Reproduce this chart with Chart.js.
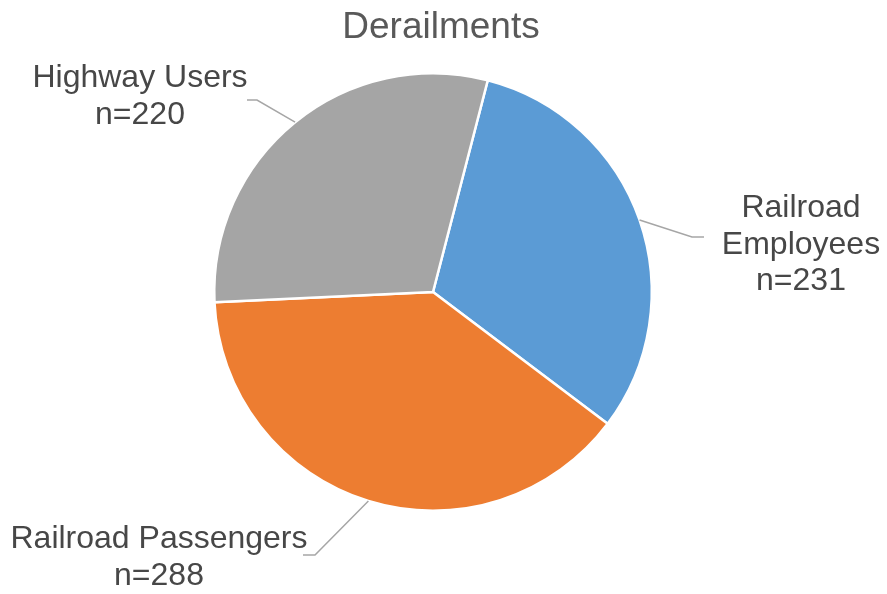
<!DOCTYPE html>
<html>
<head>
    <meta charset="utf-8">
    <title>Derailments</title>
    <script src="https://cdn.jsdelivr.net/npm/chart.js@4.4.1/dist/chart.umd.min.js"></script>
    <style>
        html, body { margin: 0; padding: 0; background: #fff; }
        #wrap { position: relative; width: 887px; height: 594px; }
    </style>
</head>
<body>
    <div id="wrap">
        <canvas id="canvas"></canvas>
    </div>
    <script>
        // casualty groups and their counts
        const groups = ['Highway Users', 'Railroad Employees', 'Railroad Passengers'];
        const counts = [220, 231, 288];
        const labelLines = [
            ['Highway Users', 'n=220'],
            ['Railroad', 'Employees', 'n=231'],
            ['Railroad Passengers', 'n=288']
        ];
        const chartTitle = 'Derailments';

        // slice order on the pie: employees first, then passengers, then highway users
        const order = [1, 2, 0];

        const colors = ['#A5A5A5', '#5B9BD5', '#ED7D31'];

        // where each label block sits and how its leader line bends
        const labelLayout = [
            { x: 140, y: 87, elbow: [257, 100], end: [247, 100] },
            { x: 801, y: 217, elbow: [692, 237], end: [704, 237] },
            { x: 159, y: 548, elbow: [315, 555], end: [303, 555] }
        ];

        const calloutPlugin = {
            id: 'callouts',
            afterDraw(chart) {
                const ctx = chart.ctx;
                ctx.save();
                // title
                ctx.fillStyle = '#595959';
                ctx.font = '37px "Liberation Sans", Arial, sans-serif';
                ctx.textAlign = 'center';
                ctx.textBaseline = 'alphabetic';
                ctx.fillText(chartTitle, 441, 38);

                const arcs = chart.getDatasetMeta(0).data;
                arcs.forEach((arc, i) => {
                    const g = order[i];
                    const p = arc.getProps(['x', 'y', 'startAngle', 'endAngle', 'outerRadius'], true);
                    const mid = (p.startAngle + p.endAngle) / 2;
                    const sx = p.x + Math.cos(mid) * p.outerRadius;
                    const sy = p.y + Math.sin(mid) * p.outerRadius;
                    const lay = labelLayout[g];

                    ctx.strokeStyle = '#A6A6A6';
                    ctx.lineWidth = 1.5;
                    ctx.beginPath();
                    ctx.moveTo(sx, sy);
                    ctx.lineTo(lay.elbow[0], lay.elbow[1]);
                    ctx.lineTo(lay.end[0], lay.end[1]);
                    ctx.stroke();

                    ctx.fillStyle = '#474747';
                    ctx.font = '32px "Liberation Sans", Arial, sans-serif';
                    labelLines[g].forEach((line, k) => {
                        ctx.fillText(line, lay.x, lay.y + k * 36.5);
                    });
                });
                ctx.restore();
            }
        };

        new Chart(document.getElementById('canvas'), {
            type: 'pie',
            data: {
                labels: order.map(i => groups[i]),
                datasets: [{
                    data: order.map(i => counts[i]),
                    backgroundColor: order.map(i => colors[i]),
                    borderColor: '#ffffff',
                    borderWidth: 2.5
                }]
            },
            options: {
                responsive: true,
                maintainAspectRatio: false,
                animation: false,
                rotation: 14.5,
                layout: {
                    padding: { left: 213, right: 234, top: 72, bottom: 82 }
                },
                plugins: {
                    legend: { display: false },
                    tooltip: { enabled: false }
                }
            },
            plugins: [calloutPlugin]
        });
    </script>
</body>
</html>
